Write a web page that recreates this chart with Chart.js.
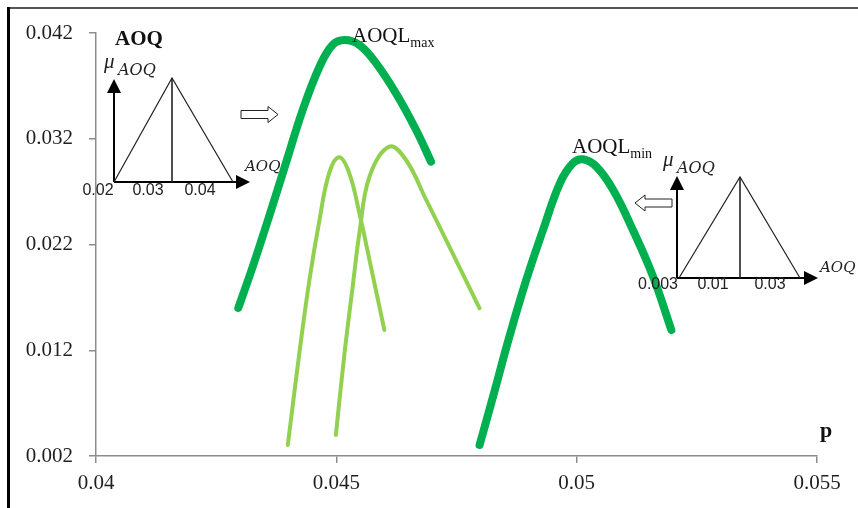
<!DOCTYPE html>
<html>
<head>
<meta charset="utf-8">
<script src="https://cdn.jsdelivr.net/npm/chart.js@4.4.0/dist/chart.umd.min.js"></script>
<style>
  html, body { margin: 0; padding: 0; background: #fff; }
  #chart { display: block; }
</style>
</head>
<body>
<canvas id="chart" width="858" height="508"></canvas>
<script>
// axis ticks
const xTicks = [0.04, 0.045, 0.05, 0.055];
const yTicks = [0.002, 0.012, 0.022, 0.032, 0.042];

// AOQL max curve (dark green, thick)
const maxP   = [0.04296, 0.04326, 0.0436, 0.04395, 0.0443, 0.04465, 0.04492, 0.04517, 0.04548, 0.04583, 0.04624, 0.04666, 0.04697];
const maxAOQ = [0.0160, 0.0199, 0.02463, 0.02968, 0.03472, 0.03881, 0.04087, 0.04134, 0.04087, 0.03913, 0.0363, 0.03283, 0.02983];

// two middle curves (light green)
const midAP   = [0.04399, 0.04423, 0.04444, 0.04465, 0.04485, 0.04506, 0.04527, 0.04548, 0.04569, 0.046];
const midAAOQ = [0.00304, 0.01171, 0.01864, 0.02432, 0.02873, 0.03024, 0.02873, 0.02495, 0.02053, 0.01391];
const midBP   = [0.04499, 0.04517, 0.04534, 0.04548, 0.04569, 0.0461, 0.04645, 0.04687, 0.04742, 0.04798];
const midBAOQ = [0.00399, 0.01171, 0.01801, 0.02306, 0.02841, 0.03125, 0.02999, 0.02621, 0.02117, 0.01597];

// AOQL min curve (dark green, thick)
const minP   = [0.04798, 0.04826, 0.0486, 0.04895, 0.0493, 0.04965, 0.04992, 0.05013, 0.05041, 0.05076, 0.05117, 0.05159, 0.05197];
const minAOQ = [0.00304, 0.00761, 0.01328, 0.01864, 0.02337, 0.02779, 0.02968, 0.03006, 0.02936, 0.02715, 0.02337, 0.01896, 0.01391];

// inset tick labels (triangular fuzzy numbers)
const leftInsetTicks  = ['0.02', '0.03', '0.04'];
const rightInsetTicks = ['0.003', '0.01', '0.03'];

const DARK = '#00B050';
const LIGHT = '#92D050';
const SERIF = '"Liberation Serif", "Times New Roman", serif';
const SANS = '"Liberation Sans", Arial, sans-serif';

function pts(xs, ys) {
  return xs.map(function(x, i) { return { x: x, y: ys[i] }; });
}

function curve(xs, ys, color, width) {
  return {
    data: pts(xs, ys),
    showLine: true,
    borderColor: color,
    borderWidth: width,
    borderCapStyle: 'round',
    borderJoinStyle: 'round',
    pointRadius: 0,
    tension: 0.4
  };
}

// hollow block arrow, dir = 1 right, -1 left
function blockArrow(ctx, x0, x1, yMid, dir) {
  const tip = dir > 0 ? x1 : x0;
  const neck = tip - dir * 10;
  const tail = dir > 0 ? x0 : x1;
  ctx.beginPath();
  ctx.moveTo(tail, yMid - 4);
  ctx.lineTo(neck, yMid - 4);
  ctx.lineTo(neck, yMid - 8);
  ctx.lineTo(tip, yMid);
  ctx.lineTo(neck, yMid + 8);
  ctx.lineTo(neck, yMid + 4);
  ctx.lineTo(tail, yMid + 4);
  ctx.closePath();
  ctx.fillStyle = '#fff';
  ctx.fill();
  ctx.strokeStyle = '#222';
  ctx.lineWidth = 1;
  ctx.stroke();
}

function inset(ctx, s, ticks) {
  ctx.save();
  // axes
  ctx.strokeStyle = '#000';
  ctx.lineWidth = 2;
  ctx.beginPath();
  ctx.moveTo(s.ox, s.oy); ctx.lineTo(s.ox, s.yTip + 12);
  ctx.moveTo(s.ox, s.oy); ctx.lineTo(s.xTip - 12, s.oy);
  ctx.stroke();
  ctx.fillStyle = '#000';
  ctx.beginPath();
  ctx.moveTo(s.ox, s.yTip); ctx.lineTo(s.ox - 7, s.yTip + 14); ctx.lineTo(s.ox + 7, s.yTip + 14);
  ctx.closePath(); ctx.fill();
  ctx.beginPath();
  ctx.moveTo(s.xTip, s.oy); ctx.lineTo(s.xTip - 14, s.oy - 7); ctx.lineTo(s.xTip - 14, s.oy + 7);
  ctx.closePath(); ctx.fill();
  // triangle + mode line
  ctx.strokeStyle = '#222';
  ctx.lineWidth = 1.2;
  ctx.beginPath();
  ctx.moveTo(s.a, s.oy); ctx.lineTo(s.m, s.top); ctx.lineTo(s.b, s.oy);
  ctx.stroke();
  ctx.lineWidth = 1.6;
  ctx.beginPath();
  ctx.moveTo(s.m, s.top); ctx.lineTo(s.m, s.oy);
  ctx.stroke();
  // tick labels
  ctx.font = '16px ' + SANS;
  ctx.fillStyle = '#222';
  ctx.textAlign = 'center';
  ctx.textBaseline = 'middle';
  ticks.forEach(function(t, i) { ctx.fillText(t, s.lx[i], s.ly); });
  // mu_AOQ
  ctx.textAlign = 'left';
  ctx.textBaseline = 'alphabetic';
  ctx.font = 'italic 21px ' + SERIF;
  ctx.fillText('\u03BC', s.muX, s.muY);
  ctx.font = 'italic 16px "DejaVu Serif", serif';
  ctx.fillText('AOQ', s.muX + 14, s.muY + 7);
  // AOQ axis label
  ctx.font = 'italic 15px "DejaVu Serif", serif';
  ctx.fillText('AOQ', s.axX, s.axY);
  ctx.restore();
}

function subLabel(ctx, main, sub, x, y) {
  ctx.font = '21px ' + SERIF;
  ctx.fillText(main, x, y);
  const w = ctx.measureText(main).width;
  ctx.font = '14px ' + SERIF;
  ctx.fillText(sub, x + w, y + 5);
}

const decorations = {
  id: 'decorations',
  beforeDraw: function(chart) {
    const ctx = chart.ctx;
    ctx.save();
    ctx.fillStyle = '#fff';
    ctx.fillRect(0, 0, chart.width, chart.height);
    ctx.fillStyle = '#555';
    ctx.fillRect(8, 7, chart.width - 8, 2);
    ctx.fillStyle = '#000';
    ctx.fillRect(7, 7, 3, chart.height - 7);
    ctx.restore();
  },
  afterDatasetsDraw: function(chart) {
    const ctx = chart.ctx;
    ctx.save();
    ctx.fillStyle = '#111';
    ctx.textAlign = 'left';
    ctx.textBaseline = 'alphabetic';
    ctx.font = 'bold 21px ' + SERIF;
    ctx.fillText('AOQ', 115, 45);
    ctx.font = 'bold 22px ' + SERIF;
    ctx.fillText('p', 820, 437);
    subLabel(ctx, 'AOQL', 'max', 352, 42);
    subLabel(ctx, 'AOQL', 'min', 572, 153);

    inset(ctx, { ox: 114, oy: 182, xTip: 250, yTip: 79, a: 114, m: 172, b: 233, top: 78,
                 lx: [98, 148, 200], ly: 191, muX: 104, muY: 68, axX: 245, axY: 171 }, leftInsetTicks);
    inset(ctx, { ox: 677, oy: 278, xTip: 818, yTip: 176, a: 679, m: 740, b: 800, top: 177,
                 lx: [658, 713, 770], ly: 285, muX: 663, muY: 166, axX: 820, axY: 272 }, rightInsetTicks);

    blockArrow(ctx, 241, 278, 114.5, 1);
    blockArrow(ctx, 635, 672, 203, -1);
    ctx.restore();
  }
};

new Chart(document.getElementById('chart'), {
  type: 'scatter',
  data: {
    datasets: [
      curve(maxP, maxAOQ, DARK, 8),
      curve(midAP, midAAOQ, LIGHT, 4),
      curve(midBP, midBAOQ, LIGHT, 4),
      curve(minP, minAOQ, DARK, 8)
    ]
  },
  options: {
    responsive: false,
    animation: false,
    devicePixelRatio: 1,
    layout: { padding: { left: 0, top: 33, right: 41, bottom: 0 } },
    plugins: {
      legend: { display: false },
      tooltip: { enabled: false }
    },
    scales: {
      x: {
        type: 'linear',
        min: 0.04,
        max: 0.055,
        afterBuildTicks: function(scale) { scale.ticks = xTicks.map(function(v) { return { value: v }; }); },
        afterFit: function(scale) { scale.height = 52; },
        grid: { drawOnChartArea: false, drawTicks: true, tickLength: 7, color: '#8c8c8c', lineWidth: 1.5 },
        border: { color: '#8c8c8c', width: 1.5 },
        ticks: {
          padding: 8,
          color: '#1f1f1f',
          font: { family: SERIF, size: 21 },
          maxRotation: 0,
          callback: function(v) { return String(+v.toFixed(3)); }
        }
      },
      y: {
        type: 'linear',
        min: 0.002,
        max: 0.042,
        afterBuildTicks: function(scale) { scale.ticks = yTicks.map(function(v) { return { value: v }; }); },
        afterFit: function(scale) { scale.width = 96; },
        grid: { drawOnChartArea: false, drawTicks: true, tickLength: 7, color: '#8c8c8c', lineWidth: 1.5 },
        border: { color: '#8c8c8c', width: 1.5 },
        ticks: {
          padding: 16,
          color: '#1f1f1f',
          font: { family: SERIF, size: 21 },
          callback: function(v) { return String(+v.toFixed(3)); }
        }
      }
    }
  },
  plugins: [decorations]
});
</script>
</body>
</html>
